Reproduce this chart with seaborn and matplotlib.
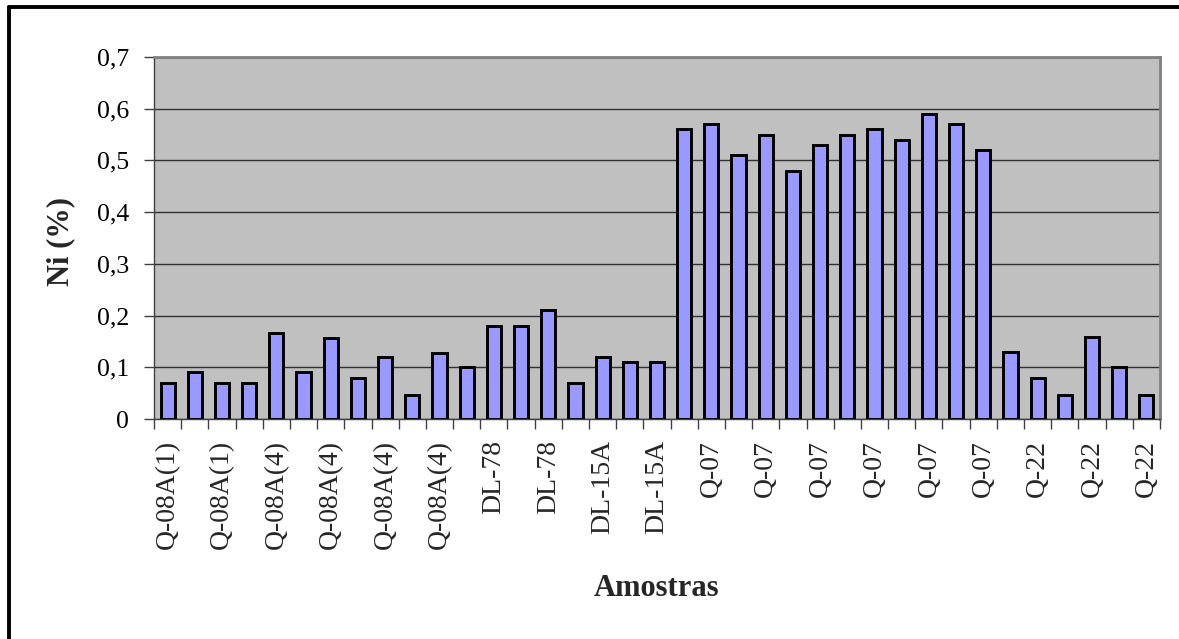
import numpy as np
import pandas as pd
import matplotlib
matplotlib.use("Agg")
import matplotlib.pyplot as plt
from matplotlib.lines import Line2D
import seaborn as sns

# Sample names for each bar (only every other one is printed on the axis)
amostras = (
    ["Q-08A(1)"] * 4
    + ["Q-08A(4)"] * 8
    + ["DL-78"] * 4
    + ["DL-15A"] * 3
    + ["Q-07"] * 12
    + ["Q-22"] * 6
)

# Ni content (%) per analysed point
ni_pct = [
    0.07, 0.09, 0.07, 0.07, 0.167, 0.09, 0.157, 0.08, 0.12, 0.047,
    0.128, 0.10, 0.18, 0.18, 0.21, 0.07, 0.12, 0.11, 0.11, 0.56,
    0.57, 0.51, 0.55, 0.48, 0.53, 0.55, 0.56, 0.54, 0.59, 0.57,
    0.52, 0.13, 0.08, 0.047, 0.158, 0.10, 0.047,
]

y_ticks = [0, 0.1, 0.2, 0.3, 0.4, 0.5, 0.6, 0.7]
y_tick_labels = ["0", "0,1", "0,2", "0,3", "0,4", "0,5", "0,6", "0,7"]

df = pd.DataFrame({"ponto": np.arange(len(ni_pct)), "amostra": amostras, "ni": ni_pct})

sns.set_theme(style="white")
plt.rcParams["font.family"] = ["Liberation Serif", "DejaVu Serif"]

fig = plt.figure(figsize=(11.79, 6.39), dpi=100)
ax = fig.add_axes([154 / 1179, 1 - 419 / 639, (1160 - 154) / 1179, (419 - 57) / 639])
ax.set_facecolor("#C0C0C0")

sns.barplot(
    data=df, x="ponto", y="ni", color="#9999FF", saturation=1,
    edgecolor="black", linewidth=2.1, width=0.52, ax=ax, zorder=3,
)

n = len(ni_pct)
ax.set_xlim(-0.5, n - 0.5)
ax.set_ylim(0, 0.7)

# horizontal gridlines
ax.set_yticks(y_ticks)
ax.set_yticklabels(y_tick_labels, fontsize=18.5)
ax.yaxis.grid(True, color="#303030", linewidth=1.0, zorder=1)
ax.set_axisbelow(True)
ax.tick_params(axis="y", direction="out", length=7, width=1, color="#404040",
               left=True, pad=11, labelcolor="black")

# category labels on every second bar, tick marks between bars
major = np.arange(0, n, 2)
ax.set_xticks(major)
ax.set_xticklabels([amostras[i] for i in major], rotation=90, fontsize=20)
ax.set_xticks(np.arange(-0.5, n, 1.0), minor=True)
ax.tick_params(axis="x", which="major", length=0, pad=15, bottom=True)
ax.tick_params(axis="x", which="minor", direction="out", length=7, width=1,
               color="#404040", bottom=True)

for side in ["top", "right"]:
    ax.spines[side].set_color("#808080")
    ax.spines[side].set_linewidth(2)
ax.spines["left"].set_color("#404040")
ax.spines["bottom"].set_color("#404040")
ax.spines["left"].set_linewidth(1)
ax.spines["bottom"].set_linewidth(1)

ax.set_xlabel("")
ax.set_ylabel("")
fig.text(657 / 1179, 1 - 588 / 639, "Amostras", fontsize=22, fontweight="bold",
         ha="center", va="center")
fig.text(61 / 1179, 1 - 242 / 639, "Ni (%)", fontsize=22, fontweight="bold",
         ha="center", va="center", rotation=90)

# outer chart frame (left and top edges)
fig.add_artist(Line2D([8.5 / 1179, 8.5 / 1179], [0, 1 - 7 / 639],
                      transform=fig.transFigure, color="black", linewidth=2.8))
fig.add_artist(Line2D([8.5 / 1179, 1], [1 - 7 / 639, 1 - 7 / 639],
                      transform=fig.transFigure, color="black", linewidth=2.8))

fig.savefig("out.png", dpi=100, facecolor="white")
